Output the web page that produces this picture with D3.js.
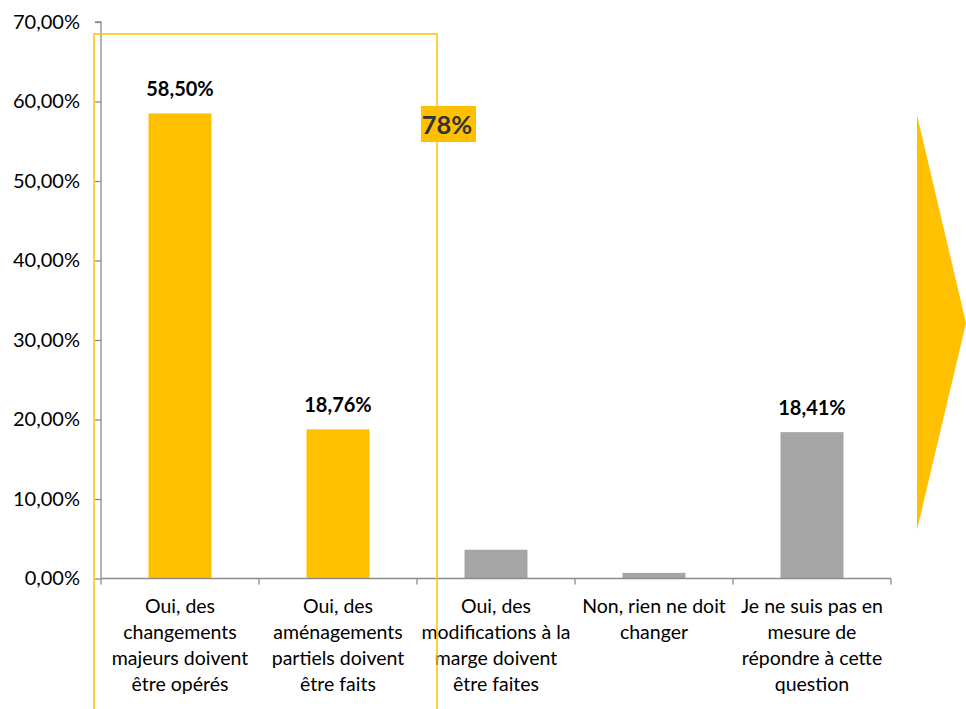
<!DOCTYPE html>
<html><head><meta charset="utf-8">
<script src="https://cdn.jsdelivr.net/npm/d3@7"></script>
<style>body{margin:0;background:#fff}svg{display:block}text{font-family:Lato,"Open Sans",sans-serif}</style>
</head><body>
<svg id="c" width="966" height="709"></svg>
<script>
const categories = [
  ["Oui, des","changements","majeurs doivent","être opérés"],
  ["Oui, des","aménagements","partiels doivent","être faits"],
  ["Oui, des","modifications à la","marge doivent","être faites"],
  ["Non, rien ne doit","changer"],
  ["Je ne suis pas en","mesure de","répondre à cette","question"]
];
const values = [58.50, 18.76, 3.62, 0.71, 18.41];
const valueLabels = ["58,50%", "18,76%", null, null, "18,41%"];
const barColors = ["#FFC000", "#FFC000", "#A5A5A5", "#A5A5A5", "#A5A5A5"];
const yTicks = [0, 10, 20, 30, 40, 50, 60, 70];
const groupLabel = "78%";

const svg = d3.select("#c");
const x0 = 101, x1 = 891, yTop = 22, yBot = 578.5;
const x = d3.scaleBand().domain(d3.range(categories.length)).range([x0, x1]).paddingInner(0).paddingOuter(0);
const y = d3.scaleLinear().domain([0, 70]).range([yBot, yTop]);
const axisColor = "#8c8c8c";
const barW = 63;

// y axis
const yAxis = d3.axisLeft(y).tickValues(yTicks).tickSize(6).tickPadding(15)
  .tickFormat(d => d3.format(".2f")(d).replace(".", ",") + "%");
const ga = svg.append("g").attr("transform", `translate(${x0},0)`).call(yAxis);
ga.select(".domain").attr("stroke", axisColor).attr("stroke-width", 1.3).attr("d", `M-6,${yTop}H0V${yBot}`);
ga.selectAll(".tick line").attr("stroke", axisColor).attr("stroke-width", 1.3);
ga.selectAll(".tick text").attr("fill", "#000").style("font-size", "20px").style("font-family", "Lato,'Open Sans',sans-serif");

// bars
svg.selectAll("rect.bar").data(values).join("rect").attr("class", "bar")
  .attr("x", (d, i) => x(i) + x.bandwidth() / 2 - barW / 2)
  .attr("width", barW)
  .attr("y", d => y(d))
  .attr("height", d => y(0) - y(d))
  .attr("fill", (d, i) => barColors[i]);

// value labels
svg.selectAll("text.vl").data(values).join("text").attr("class", "vl")
  .attr("x", (d, i) => x(i) + x.bandwidth() / 2)
  .attr("y", d => y(d) - 17)
  .attr("text-anchor", "middle")
  .style("font-size", "20px").style("font-weight", "bold")
  .text((d, i) => valueLabels[i] || "");

// x axis
const gx = svg.append("g");
gx.append("path").attr("d", `M${x0},${yBot}H${x1}`).attr("stroke", axisColor).attr("stroke-width", 1.3).attr("fill", "none");
const bounds = d3.range(categories.length + 1).map(i => i < categories.length ? x(i) : x1);
gx.selectAll("line.t").data(bounds).join("line").attr("class", "t")
  .attr("x1", d => d).attr("x2", d => d).attr("y1", yBot).attr("y2", yBot + 6)
  .attr("stroke", axisColor).attr("stroke-width", 1.3);

// category labels
categories.forEach((lines, i) => {
  const t = svg.append("text").attr("text-anchor", "middle").style("font-size", "19.5px").attr("fill", "#000");
  lines.forEach((ln, j) => {
    t.append("tspan").attr("x", x(i) + x.bandwidth() / 2).attr("y", 613 + j * 26).text(ln);
  });
});

// yellow grouping rectangle
svg.append("path").attr("d", `M94,720V34H437V720`).attr("fill", "none").attr("stroke", "#FFC000").attr("stroke-width", 1.5);

// group label
svg.append("rect").attr("x", 421).attr("y", 106).attr("width", 55).attr("height", 36).attr("fill", "#FFC000");
svg.append("text").attr("x", 447).attr("y", 134).attr("text-anchor", "middle")
  .style("font-size", "25.5px").style("font-weight", "bold").attr("fill", "#333")
  .text(groupLabel);

// arrow
svg.append("path").attr("d", "M917,115L966,323L917,530Z").attr("fill", "#FFC000");
</script>
</body></html>
